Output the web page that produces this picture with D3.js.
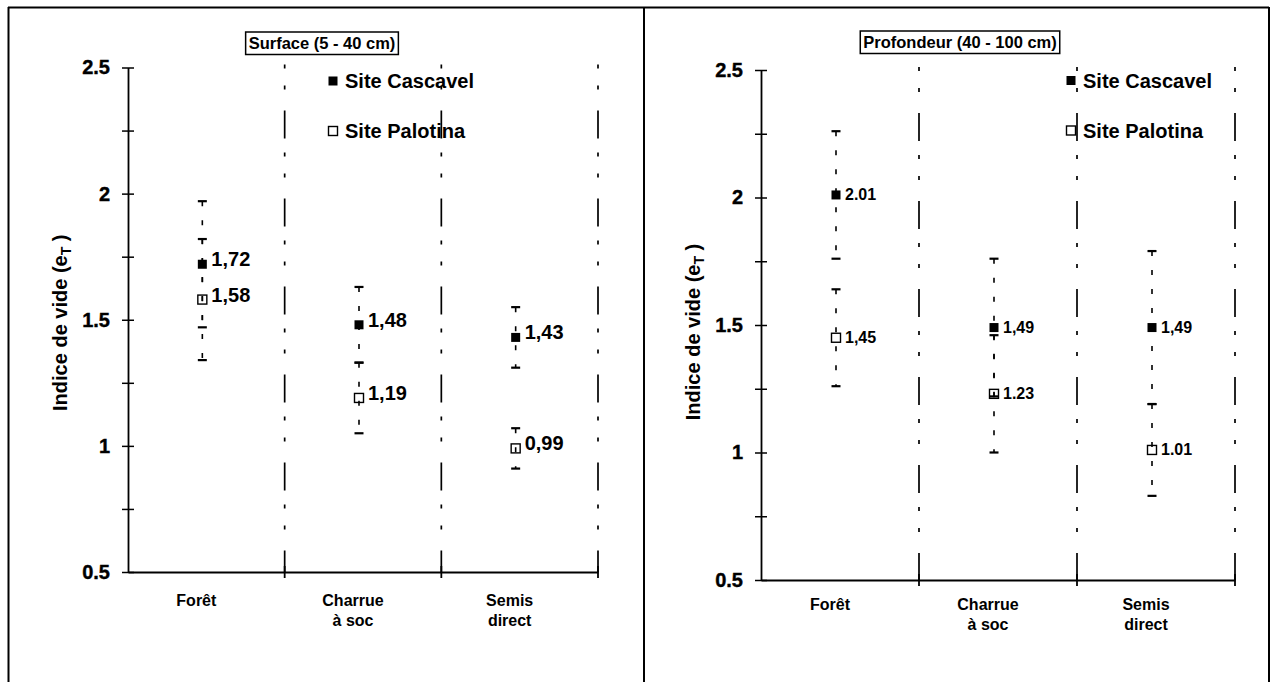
<!DOCTYPE html>
<html>
<head>
<meta charset="utf-8">
<script src="https://cdn.jsdelivr.net/npm/d3@7"></script>
<style>
  html, body { margin: 0; padding: 0; background: #fff; }
  svg { display: block; }
  text { font-family: "Liberation Sans", Arial, Helvetica, sans-serif; font-weight: bold; fill: #000; }
</style>
</head>
<body>
<svg id="chart" width="1273" height="682"></svg>
<script>
// ---------------- DATA ----------------
const categories = ["Forêt", "Charrue à soc", "Semis direct"];
const categoryLines = [["Forêt"], ["Charrue", "à soc"], ["Semis", "direct"]];
const seriesNames = ["Site Cascavel", "Site Palotina"];
const panelTitles = ["Surface (5 - 40 cm)", "Profondeur (40 - 100 cm)"];
const yAxisTitle = "Indice de vide (e";
const yAxisSub = "T";

const yMajorTicks = [0.5, 1, 1.5, 2, 2.5];
const yTickLabels = ["0.5", "1", "1.5", "2", "2.5"];
const yMinorTicks = [0.75, 1.25, 1.75, 2.25];

// Surface (5 - 40 cm)
const surfCascavel = [1.72, 1.48, 1.43];
const surfCascavelErr = [0.25, 0.15, 0.12];
const surfCascavelLabels = ["1,72", "1,48", "1,43"];
const surfPalotina = [1.58, 1.19, 0.99];
const surfPalotinaErr = [0.24, 0.14, 0.08];
const surfPalotinaLabels = ["1,58", "1,19", "0,99"];

// Profondeur (40 - 100 cm)
const profCascavel = [2.01, 1.49, 1.49];
const profCascavelErr = [0.25, 0.27, 0.30];
const profCascavelLabels = ["2.01", "1,49", "1,49"];
const profPalotina = [1.45, 1.23, 1.01];
const profPalotinaErr = [0.19, 0.23, 0.18];
const profPalotinaLabels = ["1,45", "1.23", "1.01"];

// ---------------- LAYOUT ----------------
const svg = d3.select("#chart");

const panels = [
  { title: panelTitles[0],
    series: [
      { values: surfCascavel, err: surfCascavelErr, labels: surfCascavelLabels, filled: true },
      { values: surfPalotina, err: surfPalotinaErr, labels: surfPalotinaLabels, filled: false }
    ],
    axisX: 128, xEnd: 598, yTop: 67.5, yBottom: 572,
    legendX: 333, legendY: 81, titleCX: 322, titleY: 32,
    valueFont: 20, valueDy: 2, yTitleDy: 3, catDy: 34 },
  { title: panelTitles[1],
    series: [
      { values: profCascavel, err: profCascavelErr, labels: profCascavelLabels, filled: true },
      { values: profPalotina, err: profPalotinaErr, labels: profPalotinaLabels, filled: false }
    ],
    axisX: 761, xEnd: 1235, yTop: 70, yBottom: 580,
    legendX: 1071, legendY: 80.5, titleCX: 960, titleY: 31,
    valueFont: 16, valueDy: 5, yTitleDy: 7, catDy: 30 }
];

// outer frame
const frame = svg.append("g").attr("stroke", "#000").attr("stroke-width", 2).attr("fill", "none");
frame.append("line").attr("x1", 8).attr("x2", 1269).attr("y1", 7.5).attr("y2", 7.5);
frame.append("line").attr("x1", 8.5).attr("x2", 8.5).attr("y1", 7).attr("y2", 682);
frame.append("line").attr("x1", 644).attr("x2", 644).attr("y1", 7).attr("y2", 682);
frame.append("line").attr("x1", 1269).attr("x2", 1269).attr("y1", 7).attr("y2", 682);

panels.forEach(p => {
  const g = svg.append("g");
  const y = d3.scaleLinear().domain([0.5, 2.5]).range([p.yBottom, p.yTop]);
  const x = d3.scaleBand().domain(categories).range([p.axisX, p.xEnd]).padding(0);
  const bw = x.bandwidth();
  const cx = c => x(c) + bw / 2 - 4;

  // dash-dot dividers
  g.selectAll(".divider").data(categories).join("line")
    .attr("x1", c => x(c) + bw).attr("x2", c => x(c) + bw)
    .attr("y1", y(2.5) - 3).attr("y2", y(0.5))
    .attr("stroke", "#000").attr("stroke-width", 1.7)
    .attr("stroke-dasharray", "4,17,4,21,28,14");

  // axes
  const yAxis = d3.axisLeft(y)
    .tickValues(yMajorTicks.concat(yMinorTicks))
    .tickSize(6).tickSizeOuter(0).tickPadding(12)
    .tickFormat(d => { const i = yMajorTicks.indexOf(d); return i >= 0 ? yTickLabels[i] : ""; });
  const ya = g.append("g").attr("transform", `translate(${p.axisX},0)`).call(yAxis);
  ya.select(".domain").attr("stroke-width", 1.8);
  ya.selectAll(".tick line").attr("x1", 6).attr("stroke-width", 1.5);
  ya.selectAll(".tick text").style("font-size", "20px")
    .style("font-family", "Liberation Sans, Arial, sans-serif").style("font-weight", "bold")
    .attr("stroke", "#000").attr("stroke-width", 0.4);

  const xa = g.append("g").attr("transform", `translate(0,${p.yBottom})`)
    .call(d3.axisBottom(x).tickSize(0).tickSizeOuter(0).tickFormat(""));
  xa.select(".domain").attr("stroke-width", 1.8);
  xa.selectAll(".tick").remove();
  g.selectAll(".xtick").data(categories).join("line")
    .attr("x1", c => x(c) + bw).attr("x2", c => x(c) + bw)
    .attr("y1", p.yBottom - 6).attr("y2", p.yBottom + 6)
    .attr("stroke", "#000").attr("stroke-width", 1.8);

  // category labels
  categories.forEach((c, i) => {
    const t = g.append("text").attr("text-anchor", "middle").style("font-size", "16px");
    categoryLines[i].forEach((line, j) => {
      t.append("tspan").attr("x", cx(c) - 6).attr("y", p.yBottom + p.catDy + j * 20).text(line);
    });
  });

  // y axis title
  g.append("text")
    .attr("transform", `translate(${p.axisX - 61},${(y(0.5) + y(2.5)) / 2 + p.yTitleDy}) rotate(-90)`)
    .attr("text-anchor", "middle").style("font-size", "20px")
    .call(t => {
      t.append("tspan").text(yAxisTitle);
      t.append("tspan").attr("dy", 4).style("font-size", "14px").text(yAxisSub);
      t.append("tspan").attr("dy", -4).text(" )");
    });

  // markers
  p.series.forEach(s => {
    g.selectAll(null).data(categories).join("rect")
      .attr("x", (c) => cx(c) - 4.5)
      .attr("y", (c, i) => y(s.values[i]) - 4.5)
      .attr("width", 9).attr("height", 9)
      .attr("fill", s.filled ? "#000" : "#fff")
      .attr("stroke", "#000").attr("stroke-width", s.filled ? 0 : 1.4);
  });

  // error bars
  p.series.forEach(s => {
    g.selectAll(null).data(categories).join("line")
      .attr("x1", c => cx(c)).attr("x2", c => cx(c))
      .attr("y1", (c, i) => y(s.values[i] + s.err[i]))
      .attr("y2", (c, i) => y(s.values[i] - s.err[i]))
      .attr("stroke", "#000").attr("stroke-width", 1.6)
      .attr("stroke-dasharray", "5,14");
    [1, -1].forEach(sign => {
      g.selectAll(null).data(categories).join("line")
        .attr("x1", c => cx(c) - 4.5).attr("x2", c => cx(c) + 4.5)
        .attr("y1", (c, i) => y(s.values[i] + sign * s.err[i]))
        .attr("y2", (c, i) => y(s.values[i] + sign * s.err[i]))
        .attr("stroke", "#000").attr("stroke-width", 2.2);
    });
  });

  // value labels
  p.series.forEach(s => {
    g.selectAll(null).data(categories).join("text")
      .attr("x", c => cx(c) + 9)
      .attr("y", (c, i) => y(s.values[i]) + p.valueDy)
      .style("font-size", p.valueFont + "px")
      .text((c, i) => s.labels[i]);
  });

  // legend
  seriesNames.forEach((name, i) => {
    const ly = p.legendY + i * 50;
    g.append("rect").attr("x", p.legendX - 4.5).attr("y", ly - 4.5)
      .attr("width", 9).attr("height", 9)
      .attr("fill", i === 0 ? "#000" : "#fff")
      .attr("stroke", "#000").attr("stroke-width", i === 0 ? 0 : 1.4);
    g.append("text").attr("x", p.legendX + 12).attr("y", ly + 7)
      .style("font-size", "20px").text(name);
  });

  // title box
  const tt = g.append("text").attr("x", p.titleCX).attr("y", p.titleY + 17)
    .attr("text-anchor", "middle").style("font-size", "16.5px").text(p.title);
  const bb = tt.node().getBBox();
  g.insert("rect", () => tt.node())
    .attr("x", bb.x - 3).attr("y", p.titleY)
    .attr("width", bb.width + 6).attr("height", 22.5)
    .attr("fill", "#fff").attr("stroke", "#000").attr("stroke-width", 1.5);
});
</script>
</body>
</html>
